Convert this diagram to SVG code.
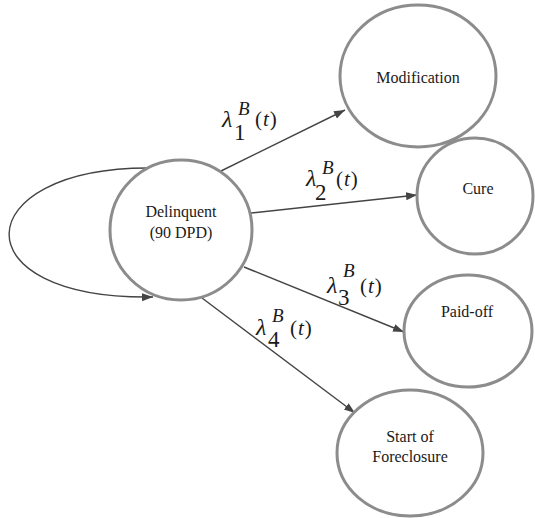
<svg xmlns="http://www.w3.org/2000/svg" width="535" height="518" viewBox="0 0 535 518">
<style>
text{font-family:'Liberation Serif','Times New Roman',Times,'DejaVu Serif',serif;fill:#1a1a1a}
.node{fill:#fff;stroke:#8c8c8c;stroke-width:3}
.nt{font-size:16px;text-anchor:middle}
.edge{fill:none;stroke:#444;stroke-width:1.4}
.lam{font-style:italic;font-size:24px}
.sup{font-style:italic;font-size:19px}
.sub{font-size:23px}
.arg{font-size:21px;letter-spacing:1px}
</style>
<defs>
<marker id="ah" markerUnits="userSpaceOnUse" markerWidth="12" markerHeight="10" refX="11" refY="4" orient="auto">
<path d="M0,0 L11,4 L0,8 z" fill="#444"/>
</marker>
</defs>
<rect width="535" height="518" fill="#fff"/>
<g id="connectors">
<path class="edge" d="M148,168 C -33,168 -43,300 153,297" marker-end="url(#ah)"/>
<line class="edge" x1="221" y1="171" x2="345" y2="110" marker-end="url(#ah)"/>
<line class="edge" x1="251" y1="213" x2="417" y2="195" marker-end="url(#ah)"/>
<line class="edge" x1="244" y1="267" x2="404" y2="332" marker-end="url(#ah)"/>
<line class="edge" x1="202" y1="298" x2="355" y2="413" marker-end="url(#ah)"/>
</g>
<g font-family="Liberation Serif, Times New Roman, serif">
<g id="delinquent">
<ellipse class="node" cx="181" cy="230" rx="71" ry="70"/>
<text class="nt" x="181" y="217" font-size="14.5">Delinquent</text>
<text class="nt" x="181" y="238" font-size="14.5">(90 DPD)</text>
</g>
<g id="modification">
<ellipse class="node" cx="418" cy="76" rx="78" ry="71"/>
<text class="nt" x="418" y="83">Modification</text>
</g>
<g id="cure">
<ellipse class="node" cx="475" cy="196" rx="58" ry="58"/>
<text class="nt" x="478" y="194">Cure</text>
</g>
<g id="paidoff">
<ellipse class="node" cx="468" cy="331" rx="64" ry="56"/>
<text class="nt" x="467" y="317">Paid-off</text>
</g>
<g id="foreclosure">
<ellipse class="node" cx="410" cy="453" rx="73" ry="63"/>
<text class="nt" x="410" y="442">Start of</text>
<text class="nt" x="410" y="462">Foreclosure</text>
</g>
<g id="labels">
<text class="lam" x="222" y="127">λ</text><text class="sup" x="238" y="115">B</text><text class="sub" x="234" y="140">1</text><text class="arg" x="255" y="126">(<tspan font-style="italic">t</tspan>)</text>
<text class="lam" x="306" y="186">λ</text><text class="sup" x="322" y="174">B</text><text class="sub" x="315" y="200">2</text><text class="arg" x="336" y="186">(<tspan font-style="italic">t</tspan>)</text>
<text class="lam" x="327" y="293">λ</text><text class="sup" x="343" y="277">B</text><text class="sub" x="338" y="305">3</text><text class="arg" x="360" y="293">(<tspan font-style="italic">t</tspan>)</text>
<text class="lam" x="256" y="335">λ</text><text class="sup" x="272" y="322">B</text><text class="sub" x="268" y="347">4</text><text class="arg" x="290" y="335">(<tspan font-style="italic">t</tspan>)</text>
</g>
</g>
</svg>
